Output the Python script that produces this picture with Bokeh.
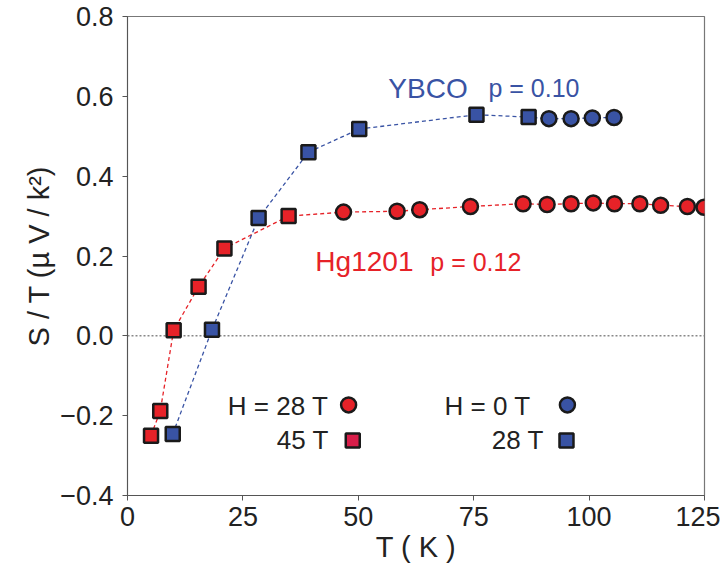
from bokeh.plotting import figure
from bokeh.models import Span, Label, Range1d, FixedTicker
from bokeh.embed import file_html
from bokeh.resources import INLINE

# ---- data ----
hg_sq_T = [5.1, 7.1, 10.0, 15.4, 21.0, 34.9]
hg_sq_S = [-0.250, -0.188, 0.014, 0.123, 0.219, 0.300]
hg_ci_T = [46.8, 58.4, 63.3, 74.3, 85.7, 90.9, 96.1, 100.9, 105.5, 111.0, 115.5, 121.3, 124.9]
hg_ci_S = [0.310, 0.312, 0.316, 0.324, 0.331, 0.329, 0.331, 0.333, 0.331, 0.331, 0.327, 0.324, 0.322]
yb_sq_T = [9.8, 18.3, 28.4, 39.2, 50.2, 75.6, 86.9]
yb_sq_S = [-0.246, 0.015, 0.295, 0.460, 0.518, 0.554, 0.548]
yb_ci_T = [91.3, 96.1, 100.7, 105.4]
yb_ci_S = [0.544, 0.544, 0.546, 0.547]

x_ticks = [0, 25, 50, 75, 100, 125]
y_ticks = [-0.4, -0.2, 0.0, 0.2, 0.4, 0.6, 0.8]
y_tick_labels = {-0.4: "\u22120.4", -0.2: "\u22120.2", 0.0: "0.0", 0.2: "0.2",
                 0.4: "0.4", 0.6: "0.6", 0.8: "0.8"}

RED = "#E62228"
BLUE = "#3953A4"
CRIMSON = "#D91E4A"
FONT = "Liberation Sans"

p = figure(width=720, height=565, output_backend="svg", toolbar_location=None,
           x_range=Range1d(0, 125), y_range=Range1d(-0.4, 0.8),
           min_border_left=127, min_border_right=16, min_border_top=16,
           min_border_bottom=70)

p.xgrid.visible = False
p.ygrid.visible = False
p.outline_line_color = "#777777"
p.outline_line_width = 1.2
p.background_fill_color = "white"
p.border_fill_color = "white"

for ax in (p.xaxis[0], p.yaxis[0]):
    ax.axis_line_color = "#555555"
    ax.major_tick_line_color = "#555555"
    ax.major_tick_out = 5
    ax.major_tick_in = 0
    ax.minor_tick_line_color = None
    ax.major_label_text_font = FONT
    ax.major_label_text_font_size = "27px"
    ax.major_label_text_color = "#222222"
    ax.axis_label_text_font = FONT
    ax.axis_label_text_font_size = "29px"
    ax.axis_label_text_font_style = "normal"
    ax.axis_label_text_color = "#222222"

p.xaxis.ticker = FixedTicker(ticks=x_ticks)
p.yaxis.ticker = FixedTicker(ticks=y_ticks)
p.yaxis.major_label_overrides = y_tick_labels
p.xaxis.axis_label = "T ( K )"
p.yaxis.axis_label = "S / T (\u00b5 V / k\u00b2)"
p.xaxis.major_label_standoff = 6
p.xaxis.axis_label_standoff = 2
p.yaxis.major_label_standoff = 9
p.yaxis.axis_label_standoff = 2

zero = Span(location=0, dimension="width", line_color="#888888",
            line_dash="2 2", line_width=1.5, level="underlay")
p.add_layout(zero)

# dashed connecting lines
p.line(hg_sq_T + hg_ci_T, hg_sq_S + hg_ci_S, line_color=RED, line_dash="4 3", line_width=1.3)
p.line(yb_sq_T + yb_ci_T, yb_sq_S + yb_ci_S, line_color=BLUE, line_dash="4 3", line_width=1.3)

# markers
p.scatter(hg_sq_T, hg_sq_S, marker="square", size=14, fill_color=RED,
          line_color="#1a1a1a", line_width=2.5)
p.scatter(hg_ci_T, hg_ci_S, marker="circle", size=15, fill_color=RED,
          line_color="#1a1a1a", line_width=2.5)
p.scatter(yb_sq_T, yb_sq_S, marker="square", size=14, fill_color=BLUE,
          line_color="#1a1a1a", line_width=2.5)
p.scatter(yb_ci_T, yb_ci_S, marker="circle", size=15, fill_color=BLUE,
          line_color="#1a1a1a", line_width=2.5)

# series labels
def lab(x, y, text, color, size, align="left", baseline="alphabetic"):
    p.add_layout(Label(x=x, y=y, text=text, text_color=color, text_font=FONT,
                       text_font_size=size, text_align=align, text_baseline=baseline))

lab(56.5, 0.62, "YBCO", BLUE, "28px")
lab(78.2, 0.62, "p = 0.10", BLUE, "25px")
lab(40.7, 0.186, "Hg1201", RED, "28px")
lab(65.6, 0.186, "p = 0.12", RED, "25px")

# field legend
lab(43.5, -0.175, "H = 28 T", "#222222", "26px", align="right", baseline="middle")
lab(43.6, -0.262, "45 T", "#222222", "26px", align="right", baseline="middle")
lab(87.3, -0.175, "H = 0 T", "#222222", "26px", align="right", baseline="middle")
lab(90.2, -0.262, "28 T", "#222222", "26px", align="right", baseline="middle")

leg_T = [47.9, 95.3]
leg_S = [-0.173, -0.173]
p.scatter(leg_T, leg_S, marker="circle", size=15, fill_color=[RED, BLUE],
          line_color="#1a1a1a", line_width=2.5)
leg_sq_T = [48.8, 95.1]
leg_sq_S = [-0.262, -0.262]
p.scatter(leg_sq_T, leg_sq_S, marker="square", size=14, fill_color=[CRIMSON, BLUE],
          line_color="#1a1a1a", line_width=2.5)

open("out.html", "w").write(file_html(p, INLINE))
